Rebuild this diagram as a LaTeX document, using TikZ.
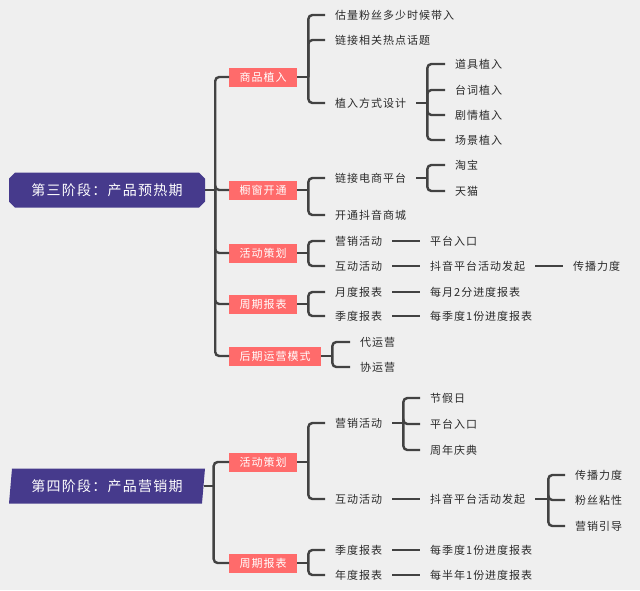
\documentclass[tikz,border=0pt]{standalone}
\usepackage{fontspec}
\newfontfamily\cjk[LetterSpace=9]{Noto Sans CJK SC}
\usetikzlibrary{shapes.misc,shapes.geometric}
\definecolor{stagepurple}{HTML}{463A8C}
\definecolor{tagred}{HTML}{FF6B6B}
\definecolor{linkgray}{HTML}{424242}
\definecolor{leafink}{HTML}{2A2A2A}
\definecolor{paper}{HTML}{EFEFEF}
\tikzset{
  stage/.style={fill=stagepurple,text=white,font=\cjk\fontsize{14}{16}\selectfont,
    minimum width=196pt,minimum height=35pt,inner sep=0pt},
  tag/.style={fill=tagred,text=white,font=\cjk\fontsize{11}{13}\selectfont,
    inner xsep=10.5pt,inner ysep=0pt,minimum height=19pt,anchor=west},
  leaf/.style={text=leafink,font=\cjk\fontsize{11}{13}\selectfont,
    inner xsep=10pt,inner ysep=1pt,anchor=west},
  link/.style={draw=linkgray,line width=2.4pt,rounded corners=4pt},
}
\begin{document}
\begin{tikzpicture}[x=1pt,y=-1pt]
  \fill[paper] (0,0) rectangle (640,590);
  \useasboundingbox (0,0) rectangle (640,590);
  % stage three
  \node[stage,chamfered rectangle,chamfered rectangle xsep=3pt,chamfered rectangle ysep=3pt]
    (r3) at (107,190) {第三阶段：产品预热期};
  \node[tag] (ga) at (229,77) {商品植入};
  \node[tag] (gb) at (229,190) {橱窗开通};
  \node[tag] (gc) at (229,253) {活动策划};
  \node[tag] (gd) at (229,304) {周期报表};
  \node[tag] (ge) at (229,356) {后期运营模式};
  \node[leaf] (ga1) at (325,15) {估量粉丝多少时候带入};
  \node[leaf] (ga2) at (325,40) {链接相关热点话题};
  \node[leaf] (ga3) at (325,103) {植入方式设计};
  \node[leaf] (ga31) at (445,64) {道具植入};
  \node[leaf] (ga32) at (445,90) {台词植入};
  \node[leaf] (ga33) at (445,115) {剧情植入};
  \node[leaf] (ga34) at (445,140) {场景植入};
  \node[leaf] (gb1) at (325,178) {链接电商平台};
  \node[leaf] (gb11) at (445,165) {淘宝};
  \node[leaf] (gb12) at (445,191) {天猫};
  \node[leaf] (gb2) at (325,215) {开通抖音商城};
  \node[leaf] (gc1) at (325,241) {营销活动};
  \node[leaf] (gc11) at (420,241) {平台入口};
  \node[leaf] (gc2) at (325,266) {互动活动};
  \node[leaf] (gc21) at (420,266) {抖音平台活动发起};
  \node[leaf] (gc211) at (563,266) {传播力度};
  \node[leaf] (gd1) at (325,292) {月度报表};
  \node[leaf] (gd11) at (420,292) {每月2分进度报表};
  \node[leaf] (gd2) at (325,316) {季度报表};
  \node[leaf] (gd21) at (420,316) {每季度1份进度报表};
  \node[leaf] (ge1) at (350,342) {代运营};
  \node[leaf] (ge2) at (350,367) {协运营};
  % stage four
  \node[stage,trapezium,trapezium left angle=77,trapezium right angle=103,trapezium stretches body]
    (r4) at (107,486) {第四阶段：产品营销期};
  \node[tag] (ha) at (229,462) {活动策划};
  \node[tag] (hb) at (229,563) {周期报表};
  \node[leaf] (ha1) at (325,423) {营销活动};
  \node[leaf] (ha11) at (420,398) {节假日};
  \node[leaf] (ha12) at (420,424) {平台入口};
  \node[leaf] (ha13) at (420,450) {周年庆典};
  \node[leaf] (ha2) at (325,499) {互动活动};
  \node[leaf] (ha21) at (420,499) {抖音平台活动发起};
  \node[leaf] (ha211) at (565,475) {传播力度};
  \node[leaf] (ha212) at (565,500) {粉丝粘性};
  \node[leaf] (ha213) at (565,526) {营销引导};
  \node[leaf] (hb1) at (325,550) {季度报表};
  \node[leaf] (hb11) at (420,550) {每季度1份进度报表};
  \node[leaf] (hb2) at (325,575) {年度报表};
  \node[leaf] (hb21) at (420,575) {每半年1份进度报表};
  % brackets
  \draw[link] (r3.east) -- ++(10,0) coordinate (r3b);
  \foreach \c in {ga,gb,gc,gd,ge} \draw[link] (r3b) |- (\c.west);
  \draw[link] (ga.east) -- ++(11,0) coordinate (gab);
  \foreach \c in {ga1,ga2,ga3} \draw[link] (gab) |- (\c.west);
  \draw[link] (ga3.east) -- ++(11,0) coordinate (ga3b);
  \foreach \c in {ga31,ga32,ga33,ga34} \draw[link] (ga3b) |- (\c.west);
  \draw[link] (gb.east) -- ++(11,0) coordinate (gbb);
  \foreach \c in {gb1,gb2} \draw[link] (gbb) |- (\c.west);
  \draw[link] (gb1.east) -- ++(11,0) coordinate (gb1b);
  \foreach \c in {gb11,gb12} \draw[link] (gb1b) |- (\c.west);
  \draw[link] (gc.east) -- ++(11,0) coordinate (gcb);
  \foreach \c in {gc1,gc2} \draw[link] (gcb) |- (\c.west);
  \draw[link] (gd.east) -- ++(11,0) coordinate (gdb);
  \foreach \c in {gd1,gd2} \draw[link] (gdb) |- (\c.west);
  \draw[link] (ge.east) -- ++(11,0) coordinate (geb);
  \foreach \c in {ge1,ge2} \draw[link] (geb) |- (\c.west);
  \draw[link] (gc1.east) -- (gc11.west);
  \draw[link] (gc2.east) -- (gc21.west);
  \draw[link] (gc21.east) -- (gc211.west);
  \draw[link] (gd1.east) -- (gd11.west);
  \draw[link] (gd2.east) -- (gd21.west);
  \draw[link] (r4.east) -- ++(10,0) coordinate (r4b);
  \foreach \c in {ha,hb} \draw[link] (r4b) |- (\c.west);
  \draw[link] (ha.east) -- ++(11,0) coordinate (hab);
  \foreach \c in {ha1,ha2} \draw[link] (hab) |- (\c.west);
  \draw[link] (ha1.east) -- ++(11,0) coordinate (ha1b);
  \foreach \c in {ha11,ha12,ha13} \draw[link] (ha1b) |- (\c.west);
  \draw[link] (ha2.east) -- (ha21.west);
  \draw[link] (ha21.east) -- ++(13,0) coordinate (ha21b);
  \foreach \c in {ha211,ha212,ha213} \draw[link] (ha21b) |- (\c.west);
  \draw[link] (hb.east) -- ++(11,0) coordinate (hbb);
  \foreach \c in {hb1,hb2} \draw[link] (hbb) |- (\c.west);
  \draw[link] (hb1.east) -- (hb11.west);
  \draw[link] (hb2.east) -- (hb21.west);
\end{tikzpicture}
\end{document}
